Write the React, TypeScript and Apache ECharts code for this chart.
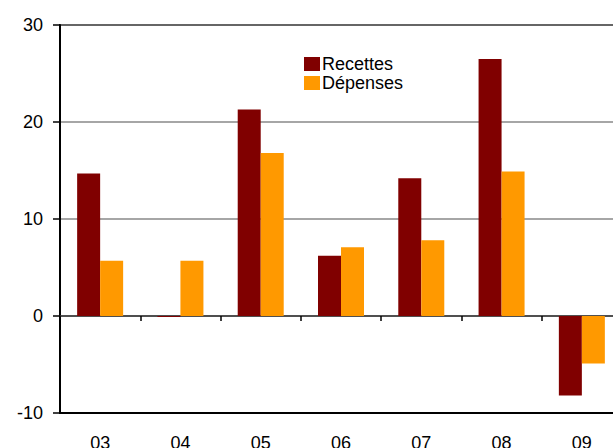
import React, { useEffect, useRef } from "react";
import * as echarts from "echarts";

const categories = ["03", "04", "05", "06", "07", "08", "09"];
const recettes = [14.7, -0.1, 21.3, 6.2, 14.2, 26.5, -8.2];
const depenses = [5.7, 5.7, 16.8, 7.1, 7.8, 14.9, -4.9];
const yTicks = { min: -10, max: 30, interval: 10 };

export default function App() {
  const ref = useRef<HTMLDivElement>(null);
  useEffect(() => {
    const chart = echarts.init(ref.current!, null, { renderer: "svg" });
    const font = "Liberation Sans, Arial, sans-serif";
    chart.setOption({
      animation: false,
      backgroundColor: "#fff",
      grid: {
        left: 60,
        top: 25,
        width: 562,
        height: 388,
        outerBoundsMode: "none",
        containLabel: false,
        show: true,
        borderColor: "#000",
        borderWidth: 2,
        backgroundColor: "transparent",
      },
      legend: {
        orient: "vertical",
        left: 299,
        top: 50,
        itemWidth: 16,
        itemHeight: 14,
        itemGap: 1,
        icon: "rect",
        textStyle: { fontFamily: font, fontSize: 18, color: "#000", padding: [0, 0, 0, -3] },
        data: ["Recettes", "Dépenses"],
      },
      xAxis: [
        {
          type: "category",
          data: categories,
          position: "bottom",
          axisLine: { onZero: false, lineStyle: { color: "#000", width: 2 } },
          axisTick: { show: false },
          axisLabel: { fontFamily: font, fontSize: 18, color: "#000", margin: 21 },
          splitLine: { show: false },
        },
        {
          type: "category",
          data: categories,
          position: "top",
          axisLine: { onZero: true, lineStyle: { color: "#333", width: 1.5 } },
          axisTick: { show: true, inside: true, length: 5, lineStyle: { color: "#000", width: 1.5 } },
          axisLabel: { show: false },
          splitLine: { show: false },
        },
      ],
      yAxis: {
        type: "value",
        min: yTicks.min,
        max: yTicks.max,
        interval: yTicks.interval,
        axisLine: { show: true, lineStyle: { color: "#000", width: 2 } },
        axisTick: { show: true, length: 7, lineStyle: { color: "#000", width: 1.5 } },
        axisLabel: { fontFamily: font, fontSize: 18, color: "#000", margin: 17 },
        splitLine: { show: true, lineStyle: { color: "#888", width: 1.5 } },
      },
      series: [
        {
          name: "Recettes",
          type: "bar",
          data: recettes,
          barWidth: 23,
          barGap: "0%",
          itemStyle: { color: "#800000" },
        },
        {
          name: "Dépenses",
          type: "bar",
          data: depenses,
          barWidth: 23,
          barGap: "0%",
          itemStyle: { color: "#FF9900" },
        },
      ],
    });
    return () => chart.dispose();
  }, []);
  return (
    <div
      ref={ref}
      style={{ position: "absolute", left: 0, top: 0, width: 613, height: 448 }}
    />
  );
}
